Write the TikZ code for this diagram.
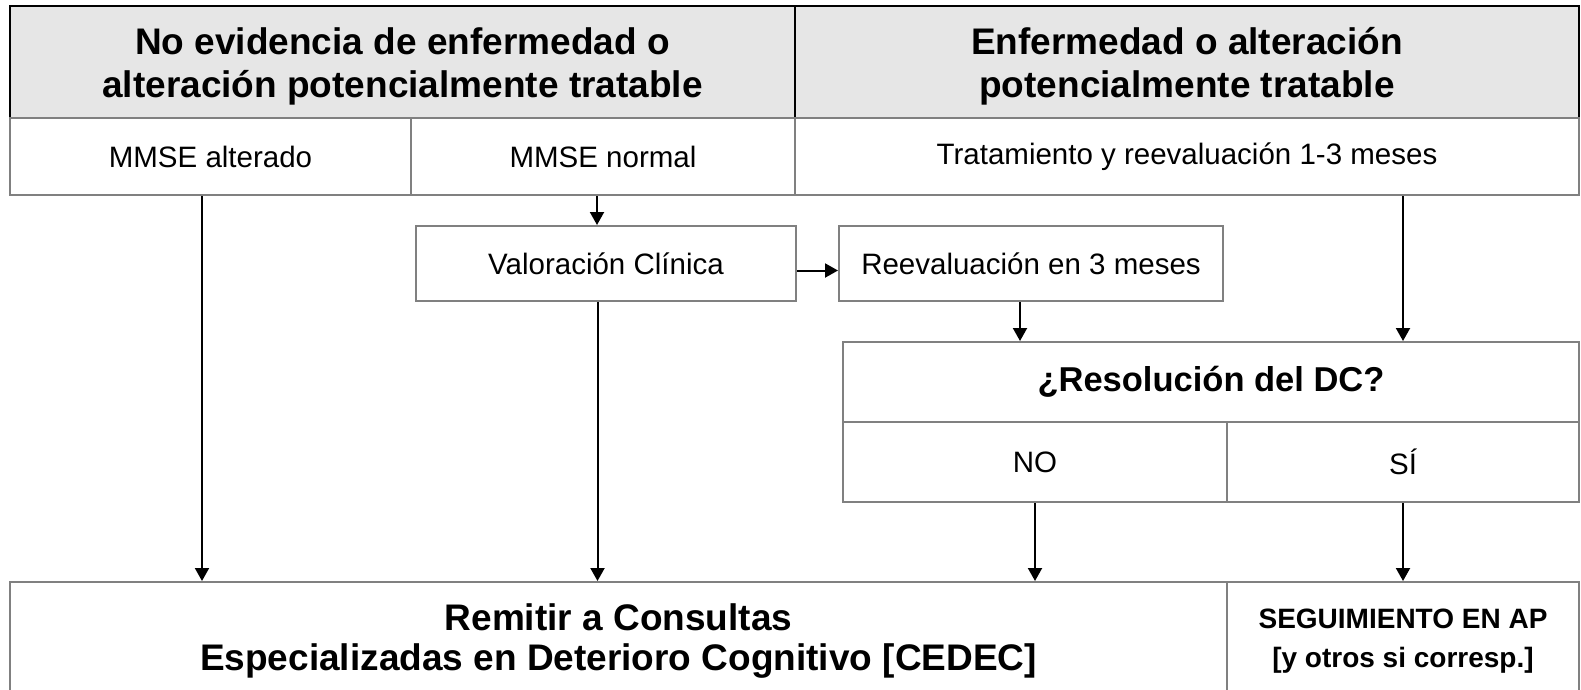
\documentclass[tikz,border=0pt]{standalone}
\usepackage{fontspec}
\setmainfont{Liberation Sans}
\usetikzlibrary{arrows.meta}
\definecolor{kopf}{HTML}{E6E6E6}
\definecolor{rand}{HTML}{808080}

\begin{document}
\begin{tikzpicture}[x=1pt, y=-1pt, line width=2pt,
    caja/.style={draw=rand, rectangle, inner sep=0pt, align=center,
        font=\fontsize{29.5}{35}\selectfont},
    kopfbox/.style={caja, draw=black, fill=kopf, minimum height=112pt,
        text height=80pt, text depth=8pt,
        font=\bfseries\fontsize{37}{43}\selectfont},
    pfeil/.style={-{Triangle[length=13pt, width=14pt]}, draw=black}]
    \useasboundingbox (0,0) rectangle (1581,690);

    % Kopfzeile.
    \node[kopfbox, minimum width=785pt] (noev) at (402.5,62) {No evidencia de enfermedad o\\alteración potencialmente tratable};
    \node[kopfbox, minimum width=784pt] (enf) at (1187,62) {Enfermedad o alteración\\potencialmente tratable};

    % Zweite Zeile.
    \node[caja, minimum width=401pt, minimum height=77pt] (malt) at (210.5,156.5) {MMSE alterado};
    \node[caja, minimum width=384pt, minimum height=77pt] (mnor) at (603,156.5) {MMSE normal};
    \node[caja, minimum width=784pt, minimum height=77pt] (trat) at (1187,156.5) {Tratamiento y reevaluación 1-3 meses};

    % Mitte.
    \node[caja, minimum width=380pt, minimum height=75pt] (valor) at (606,263.5) {Valoración Clínica};
    \node[caja, minimum width=384pt, minimum height=75pt] (reev) at (1031,263.5) {Reevaluación en 3 meses};
    \node[caja, minimum width=736pt, minimum height=80pt, font=\bfseries\fontsize{34.5}{40}\selectfont] (resol) at (1211,382) {¿Resolución del DC?};
    \node[caja, minimum width=384pt, minimum height=80pt] (no) at (1035,462) {NO};
    \node[caja, minimum width=352pt, minimum height=80pt] (si) at (1403,462) {SÍ};

    % Unten.
    \node[caja, minimum width=1217pt, minimum height=118pt, font=\bfseries\fontsize{37}{40}\selectfont] (remit) at (618.5,641) {Remitir a Consultas\\Especializadas en Deterioro Cognitivo [CEDEC]};
    \node[caja, minimum width=352pt, minimum height=118pt, font=\bfseries\fontsize{28}{38.5}\selectfont] (segui) at (1403,641) {SEGUIMIENTO EN AP\\{}[y otros si corresp.]};

    % Pfeile.
    \draw[pfeil] ([xshift=-8.5pt]malt.south) -- ([xshift=-8.5pt]malt.south |- remit.north);
    \draw[pfeil] ([xshift=-6pt]mnor.south) -- ([xshift=-6pt]mnor.south |- valor.north);
    \draw[pfeil] ([xshift=-8.5pt]valor.south) -- ([xshift=-8.5pt]valor.south |- remit.north);
    \draw[pfeil] ([yshift=-7pt]valor.east) -- ([yshift=-7pt]reev.west);
    \draw[pfeil] ([xshift=-11pt]reev.south) -- ([xshift=-11pt]reev.south |- resol.north);
    \draw[pfeil] (trat.south -| si) -- (resol.north -| si);
    \draw[pfeil] (no.south) -- (no.south |- remit.north);
    \draw[pfeil] (si.south) -- (segui.north);
\end{tikzpicture}
\end{document}
